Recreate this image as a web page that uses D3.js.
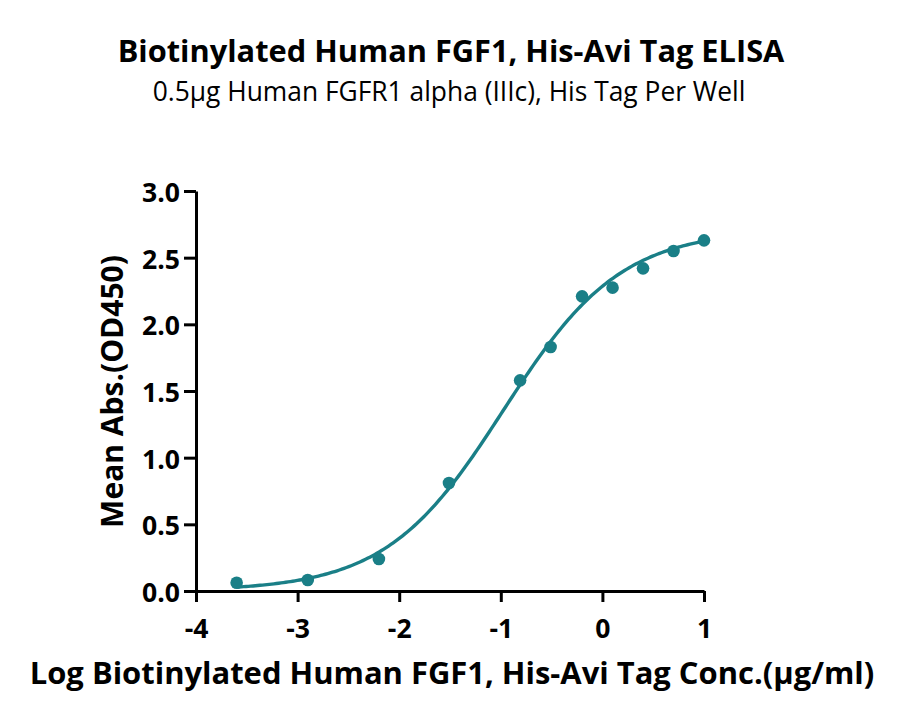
<!DOCTYPE html>
<html><head><meta charset="utf-8">
<script src="https://cdn.jsdelivr.net/npm/d3@7"></script>
<style>body{margin:0;background:#fff}svg{display:block}</style>
</head><body>
<svg id="chart" width="900" height="724"></svg>
<script>
const titleText = "Biotinylated Human FGF1, His-Avi Tag ELISA";
const subtitleText = "0.5\u03bcg Human FGFR1 alpha (IIIc), His Tag Per Well";
const xTitle = "Log Biotinylated Human FGF1, His-Avi Tag Conc.(\u03bcg/ml)";
const yTitle = "Mean Abs.(OD450)";
const logConc = [-3.60, -2.90, -2.20, -1.51, -0.81, -0.51, -0.20, 0.10, 0.40, 0.70, 1.00];
const absValues = [0.062, 0.083, 0.24, 0.81, 1.58, 1.83, 2.21, 2.275, 2.42, 2.55, 2.63];
const xTicks = [-4, -3, -2, -1, 0, 1];
const yTicks = [0.0, 0.5, 1.0, 1.5, 2.0, 2.5, 3.0];
// 4PL fit parameters (bottom, top, logEC50, hill)
const fitBottom = 0.0, fitTop = 2.71, fitLogEC50 = -0.975, fitHill = 0.75;

const color = "#1a7f87";
const font = "'Open Sans', 'Noto Sans', sans-serif";
const svg = d3.select("#chart");
const x = d3.scaleLinear().domain([-4, 1]).range([196, 704]);
const y = d3.scaleLinear().domain([0, 3]).range([591, 191]);

function fit(sel, target, base) {
  sel.attr("font-size", base);
  const w = sel.node().getComputedTextLength();
  const s = base * target / w;
  sel.attr("font-size", s);
  return s;
}

const t1 = svg.append("text").attr("x", 451).attr("y", 62).attr("text-anchor", "middle")
  .attr("font-family", font).attr("font-weight", 700).text(titleText);
fit(t1, 667, 24);
const t2 = svg.append("text").attr("x", 449).attr("y", 101).attr("text-anchor", "middle")
  .attr("font-family", font).attr("font-weight", 400).text(subtitleText);
fit(t2, 593, 20);

const fmtX = d => String(d).replace("\u2212", "-");
const xAxis = svg.append("g").attr("transform", `translate(0,${y(0)})`)
  .call(d3.axisBottom(x).tickValues(xTicks).tickFormat(fmtX).tickSize(11).tickSizeOuter(0));
const yAxis = svg.append("g").attr("transform", `translate(${x(-4)},0)`)
  .call(d3.axisLeft(y).tickValues(yTicks).tickFormat(d3.format(".1f")).tickSize(12).tickSizeOuter(0));
[xAxis, yAxis].forEach(g => {
  g.select(".domain").attr("stroke", "#000").attr("stroke-width", 3);
  g.selectAll(".tick line").attr("stroke", "#000").attr("stroke-width", 3);
  g.selectAll(".tick text").attr("font-family", font).attr("font-weight", 700).attr("fill", "#000");
});
const probe = yAxis.selectAll(".tick text").filter(d => d === 3);
const tickSize = fit(probe, 38, 20);
yAxis.selectAll(".tick text").attr("font-size", tickSize)
  .attr("x", -16).attr("dy", null).attr("y", 10.5);
xAxis.selectAll(".tick text").attr("font-size", tickSize)
  .attr("dy", null).attr("y", 47);

const xt = svg.append("text").attr("x", 452).attr("y", 684).attr("text-anchor", "middle")
  .attr("font-family", font).attr("font-weight", 700).text(xTitle);
fit(xt, 845, 26);
const yt = svg.append("text").attr("transform", "translate(123,391.5) rotate(-90)").attr("text-anchor", "middle")
  .attr("font-family", font).attr("font-weight", 700).text(yTitle);
fit(yt, 273, 24);

const f = v => fitBottom + (fitTop - fitBottom) / (1 + Math.pow(10, (fitLogEC50 - v) * fitHill));
const curveX = d3.range(0, 201).map(i => -3.6 + i * (4.6 / 200));
svg.append("path").datum(curveX)
  .attr("d", d3.line().x(d => x(d)).y(d => y(f(d))))
  .attr("fill", "none").attr("stroke", color).attr("stroke-width", 3.4);

svg.append("g").selectAll("circle").data(logConc).join("circle")
  .attr("cx", d => x(d)).attr("cy", (d, i) => y(absValues[i])).attr("r", 6.3).attr("fill", color);
</script>
</body></html>
